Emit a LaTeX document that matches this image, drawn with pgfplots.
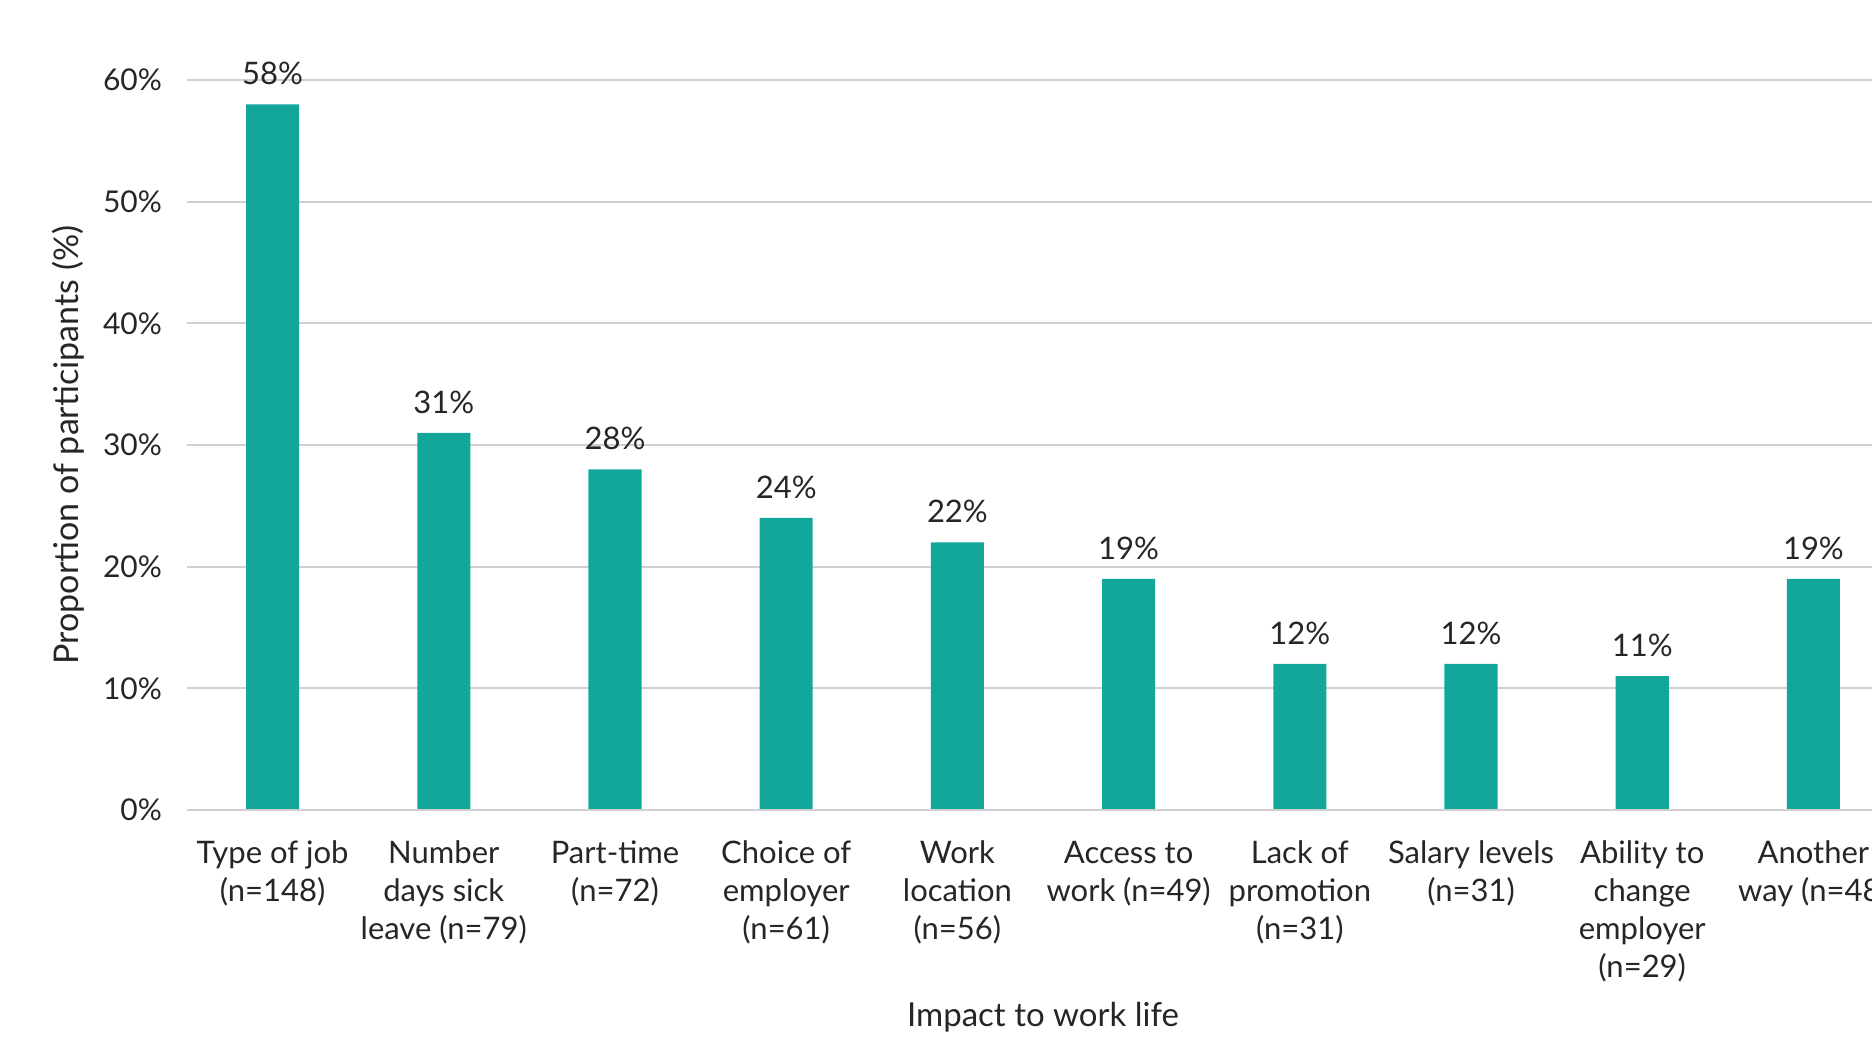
\documentclass[border=0pt]{standalone}
\usepackage{fontspec}
\setmainfont{Lato}
\usepackage{pgfplots}
\pgfplotsset{compat=1.18}
\definecolor{barteal}{RGB}{19,167,156}
\definecolor{gridgrey}{RGB}{208,208,208}
\definecolor{txt}{RGB}{38,38,38}
\begin{document}
\begin{tikzpicture}
\begin{axis}[
  name=ax,
  scale only axis,
  width=856pt, height=365pt,
  xmin=-0.5, xmax=9.5,
  ymin=0, ymax=60,
  clip=false,
  axis line style={draw=none},
  ymajorgrids, grid style={gridgrey, line width=1pt},
  major tick length=0pt,
  xtick={0,...,9},
  xticklabels={{Type of job\\(n=148)},{Number\\days sick\\leave (n=79)},{Part-time\\(n=72)},{Choice of\\employer\\(n=61)},{Work\\location\\(n=56)},{Access to\\work (n=49)},{Lack of\\promotion\\(n=31)},{Salary levels\\(n=31)},{Ability to\\change\\employer\\(n=29)},{Another\\way (n=48)}},
  xticklabel style={align=center, font=\fontsize{15.5}{19}\selectfont, text=txt, yshift=-12pt},
  ytick={0,10,20,30,40,50,60},
  yticklabels={0\%,10\%,20\%,30\%,40\%,50\%,60\%},
  yticklabel style={font=\fontsize{15}{19}\selectfont, text=txt, xshift=-9pt},
  xlabel={Impact to work life},
  xlabel style={at={(axis description cs:0.5,0)}, anchor=center, yshift=-103.5pt, font=\fontsize{16.5}{19}\selectfont, text=txt},
  ylabel={Proportion of participants (\%)},
  ylabel style={at={(axis description cs:0,0.5)}, anchor=center, yshift=59.5pt, font=\fontsize{17}{19}\selectfont, text=txt},
  ybar, bar width=0.31,
  nodes near coords={\pgfmathprintnumber[assume math mode=true]{\pgfplotspointmeta}\%},
  nodes near coords style={font=\fontsize{15.5}{19}\selectfont, text=txt, yshift=6pt},
]
\addplot[fill=barteal, draw=none] coordinates {(0,58) (1,31) (2,28) (3,24) (4,22) (5,19) (6,12) (7,12) (8,11) (9,19)};
\draw[gridgrey, line width=1pt] (axis cs:-0.5,0) -- (axis cs:9.5,0);
\end{axis}
\pgfresetboundingbox
\path[use as bounding box] ([xshift=-93.5pt,yshift=-115pt]ax.south west) rectangle ([xshift=842.5pt,yshift=40pt]ax.north west);
\end{tikzpicture}
\end{document}
